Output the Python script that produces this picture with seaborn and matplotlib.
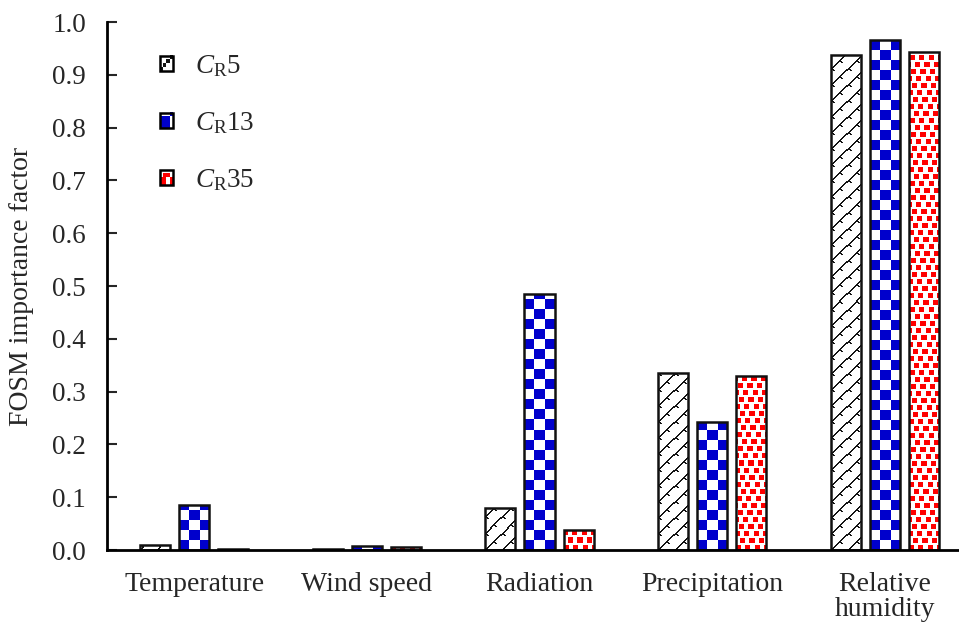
import numpy as np
import pandas as pd
import matplotlib
matplotlib.use("Agg")
import matplotlib.pyplot as plt
import seaborn as sns
from matplotlib.patches import Rectangle
from matplotlib.image import BboxImage
from matplotlib.transforms import Bbox, TransformedBbox
from matplotlib.legend_handler import HandlerBase

# ---- data -------------------------------------------------------------
variables = ["Temperature", "Wind speed", "Radiation", "Precipitation", "Relative\nhumidity"]
series = ["$C_{\\mathrm{R}}$5", "$C_{\\mathrm{R}}$13", "$C_{\\mathrm{R}}$35"]
cr5 = [0.010, 0.001, 0.080, 0.335, 0.938]
cr13 = [0.085, 0.007, 0.485, 0.242, 0.965]
cr35 = [0.002, 0.005, 0.038, 0.330, 0.943]
yticks = [0.0, 0.1, 0.2, 0.3, 0.4, 0.5, 0.6, 0.7, 0.8, 0.9, 1.0]

df = pd.DataFrame({
    "variable": variables * 3,
    "series": [series[0]] * 5 + [series[1]] * 5 + [series[2]] * 5,
    "value": cr5 + cr13 + cr35,
})

# ---- style ------------------------------------------------------------
sns.set_theme(style="white")
plt.rcParams["font.family"] = ["Liberation Serif", "DejaVu Serif"]
plt.rcParams["mathtext.fontset"] = "custom"
plt.rcParams["mathtext.rm"] = "Liberation Serif"
plt.rcParams["mathtext.it"] = "Liberation Serif:italic"


def texture(kind, w, h, scale=1):
    """Fill pattern as an RGB array of h rows by w columns (row 0 = bottom)."""
    w, h = max(int(round(w)), 1), max(int(round(h)), 1)
    yy, xx = np.mgrid[0:h, 0:w]
    xx, yy = xx * scale, yy * scale
    img = np.ones((h, w, 3))
    if kind == 0:
        # diagonal lattice of dark strokes with short cross ticks
        p = 16
        main = ((xx - yy) % p) < 2
        cross = (((xx + yy) % p) < 2) & (((xx - yy) % p) < 6)
        mask = main | cross
        img[mask] = (0.08, 0.08, 0.08)
    elif kind == 1:
        # blue / white checkerboard
        c = 10
        mask = ((xx // c) + (yy // c)) % 2 == 0
        img[mask] = (0.0, 0.0, 0.80)
    else:
        # scattered red squares
        row = yy // 7
        off = (row * 5) % 9
        mask = (((xx + off) % 9) < 5) & ((yy % 7) < 5)
        img[mask] = (1.0, 0.0, 0.0)
    return img


fig = plt.figure(figsize=(9.59, 6.28), dpi=100)
ax = fig.add_axes([107 / 959, (628 - 550) / 628, 1 - 107 / 959, (550 - 22) / 628])

sns.barplot(data=df, x="variable", y="value", hue="series", order=variables,
            hue_order=series, width=0.68, gap=0.23, legend=False,
            palette=["white"] * 3, edgecolor="#111111", linewidth=1.8, ax=ax,
            err_kws={"linewidth": 0})

ax.set_xlim(-0.505, 4.43)
ax.set_ylim(0, 1.0)
ax.set_yticks(yticks)
ax.set_yticklabels([f"{t:.1f}" for t in yticks], fontsize=19.5)
ax.tick_params(axis="y", direction="in", length=7, width=1.5, left=True, pad=15)
ax.tick_params(axis="x", length=0, pad=16, labelsize=20)
for lab in ax.get_xticklabels():
    lab.set_linespacing(1.0)
ax.set_xlabel("")
ax.set_ylabel("FOSM importance factor", fontsize=20, labelpad=13)
for s in ["top", "right"]:
    ax.spines[s].set_visible(False)
for s in ["left", "bottom"]:
    ax.spines[s].set_color("black")
    ax.spines[s].set_linewidth(2)

# pattern fills, clipped to each bar
fig.canvas.draw()
for k, cont in enumerate(ax.containers):
    for bar in cont:
        bb = bar.get_window_extent()
        x0, y0 = bar.get_x(), bar.get_y()
        x1, y1 = x0 + bar.get_width(), y0 + bar.get_height()
        im = ax.imshow(texture(k, bb.width, bb.height), extent=(x0, x1, y0, y1),
                       origin="lower", interpolation="nearest", aspect="auto", zorder=1.5)
        im.set_clip_path(bar)
        bar.set_zorder(2)
        bar.set_facecolor("none")
ax.set_xlim(-0.505, 4.43)
ax.set_ylim(0, 1.0)


class TextureHandler(HandlerBase):
    def __init__(self, kind):
        super().__init__()
        self.kind = kind

    def create_artists(self, legend, orig_handle, xdescent, ydescent,
                       width, height, fontsize, trans):
        rect = Rectangle((-xdescent, -ydescent), width, height, facecolor="none",
                         edgecolor="black", linewidth=1.8, transform=trans)
        bbox = TransformedBbox(Bbox.from_bounds(-xdescent, -ydescent, width, height), trans)
        img = BboxImage(bbox, interpolation="nearest", origin="lower")
        img.set_data(texture(self.kind, 4, 4, scale=4))
        return [img, rect]


handles = [Rectangle((0, 0), 1, 1) for _ in series]
leg = ax.legend(handles, series, loc="upper left", bbox_to_anchor=(0.034, 0.987),
                frameon=False, fontsize=19.5, handlelength=0.48, handleheight=0.48,
                handletextpad=0.8, labelspacing=1.15,
                handler_map={h: TextureHandler(i) for i, h in enumerate(handles)})

fig.savefig("out.png", dpi=100)
